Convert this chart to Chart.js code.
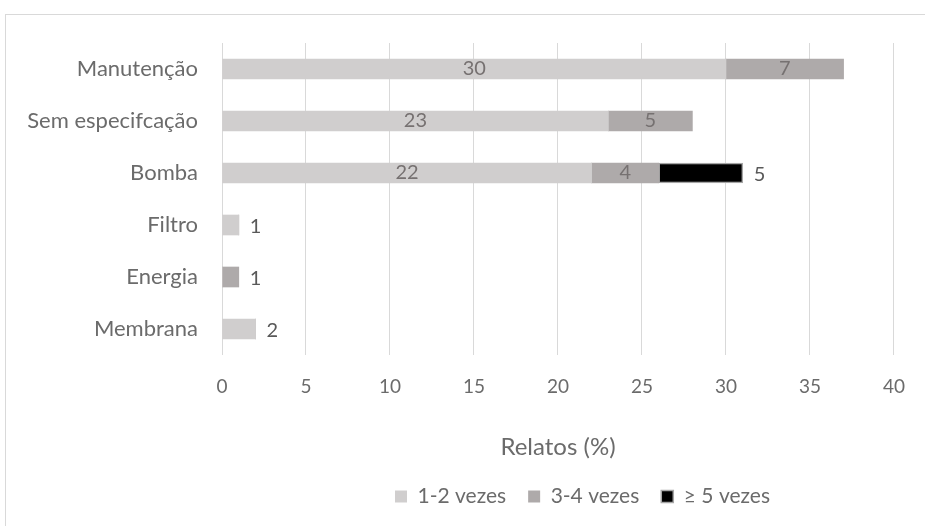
<!DOCTYPE html>
<html>
<head>
<meta charset="utf-8">
<script src="https://cdn.jsdelivr.net/npm/chart.js@4.4.0/dist/chart.umd.min.js"></script>
<style>
  html, body { margin: 0; padding: 0; background: #fff; }
  #wrap { width: 925px; height: 526px; }
</style>
</head>
<body>
<div id="wrap"><canvas id="graph" width="925" height="526"></canvas></div>
<script>
// categorias e séries (Relatos %)
const categorias = ['Manutenção', 'Sem especifcação', 'Bomba', 'Filtro', 'Energia', 'Membrana'];
const vezes12 = [30, 23, 22, 1, 0, 2];
const vezes34 = [7, 5, 4, 0, 1, 0];
const vezes5 = [0, 0, 5, 0, 0, 0];
const rotulosSerie = ['1-2 vezes', '3-4 vezes', '\u2265 5 vezes'];
const eixoX = { min: 0, max: 40, passo: 5 };

const fonte = 'Lato';
const corTexto = '#6b6b6b';

// moldura cinza em volta do gráfico
const moldura = {
  id: 'moldura',
  beforeDraw(chart) {
    const ctx = chart.ctx;
    ctx.save();
    ctx.fillStyle = '#fff';
    ctx.fillRect(0, 0, chart.width, chart.height);
    ctx.strokeStyle = '#d9d9d9';
    ctx.lineWidth = 1;
    ctx.strokeRect(5.5, 14.5, 2000, 2000);
    ctx.restore();
  }
};

// valores das barras (dentro das barras largas, fora das pequenas e da preta)
const rotulos = {
  id: 'rotulos',
  afterDatasetsDraw(chart) {
    const ctx = chart.ctx;
    ctx.save();
    ctx.font = '20px ' + fonte;
    ctx.textBaseline = 'middle';
    chart.data.datasets.forEach((ds, i) => {
      const meta = chart.getDatasetMeta(i);
      meta.data.forEach((bar, j) => {
        const v = ds.data[j];
        if (!v) return;
        const dentro = ds.backgroundColor !== '#000000' && Math.abs(bar.x - bar.base) > 40;
        if (dentro) {
          ctx.textAlign = 'center';
          ctx.fillStyle = '#767171';
          ctx.fillText(v, (bar.x + bar.base) / 2, bar.y);
        } else {
          ctx.textAlign = 'left';
          ctx.fillStyle = '#595959';
          ctx.fillText(v, bar.x + 11, bar.y + 2);
        }
      });
    });
    ctx.restore();
  }
};

// legenda começa em x = 395
const posLegenda = {
  id: 'posLegenda',
  afterLayout(chart) {
    const lg = chart.legend;
    const w = lg.right - lg.left;
    lg.left = 395 - lg.options.labels.padding;
    lg.right = lg.left + w;
  }
};

const ctx = document.getElementById('graph').getContext('2d');
const grafico = new Chart(ctx, {
  type: 'bar',
  data: {
    labels: categorias,
    datasets: [
      { label: rotulosSerie[0], data: vezes12, backgroundColor: '#d0cece', borderWidth: 0 },
      { label: rotulosSerie[1], data: vezes34, backgroundColor: '#aeaaaa', borderWidth: 0 },
      { label: rotulosSerie[2], data: vezes5, backgroundColor: '#000000', borderColor: '#a6a6a6', borderWidth: 1.5, borderSkipped: false }
    ]
  },
  options: {
    indexAxis: 'y',
    responsive: false,
    animation: false,
    devicePixelRatio: 1,
    barThickness: 20,
    layout: { padding: { top: 43, right: 27, left: 0, bottom: 9 } },
    scales: {
      x: {
        stacked: true,
        min: eixoX.min,
        max: eixoX.max,
        ticks: { stepSize: eixoX.passo, padding: 20, color: corTexto, font: { family: fonte, size: 19 } },
        grid: { color: '#d9d9d9', lineWidth: 1, drawTicks: false },
        border: { display: false },
        title: { display: true, text: 'Relatos (%)', color: corTexto, font: { family: fonte, size: 24 }, padding: { top: 30, bottom: 2 } },
        afterFit(scale) { scale.height = 109; }
      },
      y: {
        stacked: true,
        ticks: { padding: 24, color: corTexto, font: { family: fonte, size: 22 } },
        grid: { display: false, drawTicks: false },
        border: { display: false },
        afterFit(scale) { scale.width = 222; }
      }
    },
    plugins: {
      legend: {
        position: 'bottom',
        align: 'start',
        labels: { boxWidth: 12, boxHeight: 12, padding: 22, color: corTexto, font: { family: fonte, size: 21 } }
      },
      tooltip: { enabled: false }
    }
  },
  plugins: [moldura, rotulos, posLegenda]
});
</script>
</body>
</html>
